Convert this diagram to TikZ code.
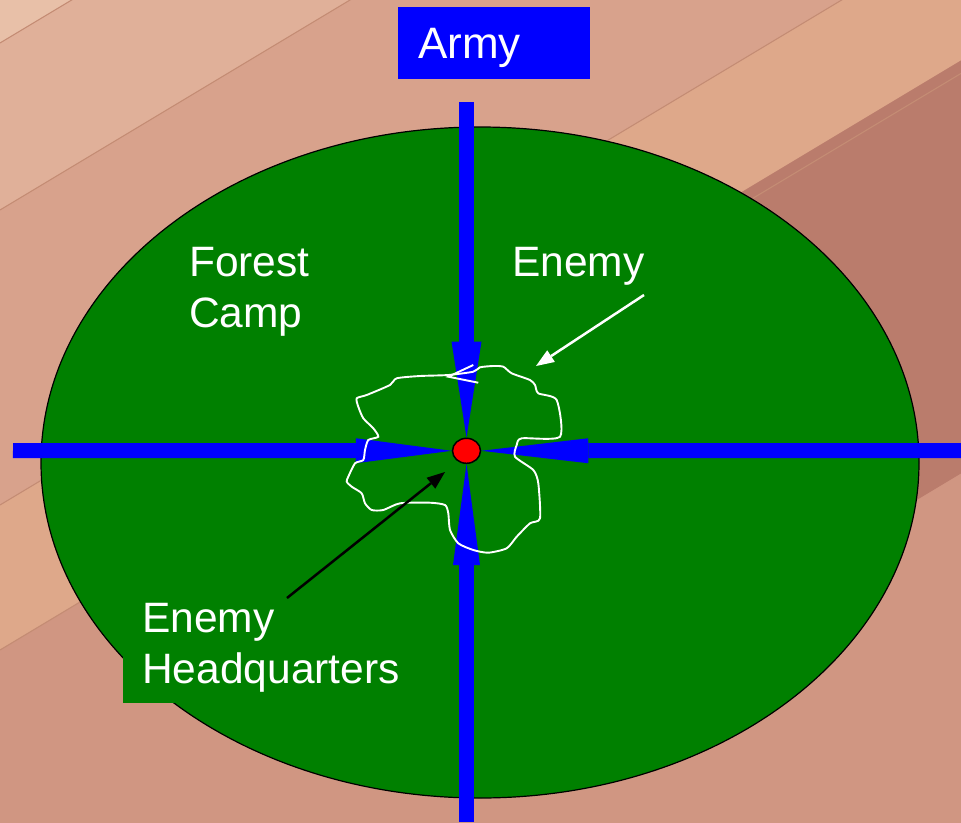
\documentclass[tikz,border=0pt]{standalone}
\usepackage{fontspec}
\setmainfont{Liberation Sans}
\usetikzlibrary{arrows.meta,shapes.geometric}
\pgfdeclarelayer{fg}
\pgfsetlayers{main,fg}
\definecolor{forest}{RGB}{0,128,0}
\definecolor{armyblue}{RGB}{0,0,255}
\definecolor{woodA}{RGB}{232,192,168}
\definecolor{woodB}{RGB}{224,176,153}
\definecolor{woodC}{RGB}{216,162,140}
\definecolor{woodD}{RGB}{222,168,138}
\definecolor{woodE}{RGB}{186,124,108}
\definecolor{woodF}{RGB}{208,150,130}
\definecolor{seam}{RGB}{196,140,116}
\tikzset{
  txt/.style={text=white, font=\fontsize{42.5}{51}\selectfont, inner sep=0pt, align=left},
  bluearrow/.style={draw=armyblue, line width=15pt},
  pointer/.style={line width=2.5pt, -{Triangle[length=18pt,width=14pt,line width=0pt]}},
  blob/.style={draw=white, line width=1.9pt},
  seamline/.style={draw=seam, line width=1.1pt},
}
\newcommand\woodband[3]{\fill[#1] (0,#2) -- (961,#2-576.6) -- (961,#3-576.6) -- (0,#3) -- cycle;}
\newcommand\woodseam[1]{\draw[seamline] (0,#1) -- (961,#1-576.6);}
\begin{document}
\begin{tikzpicture}[x=1pt,y=-1pt]
\useasboundingbox (0,0) rectangle (961,822);
% wooden floor background
\begin{scope}
  \clip (0,0) rectangle (961,822);
  \fill[woodC] (0,0) rectangle (961,822);
  \woodband{woodA}{-100}{43}
  \woodband{woodB}{43}{210}
  \woodband{woodC}{210}{505}
  \woodband{woodD}{505}{650}
  \woodband{woodF}{650}{2200}
  \fill[woodE] (650,247) -- (961,60.4) -- (961,473.4) -- (650,660) -- cycle;
  \woodseam{43}
  \woodseam{210}
  \woodseam{505}
  \woodseam{650}
\end{scope}
% forest camp
\node[ellipse, draw=black, line width=1.2pt, fill=forest, minimum width=878pt,
      minimum height=671pt, inner sep=0pt] (camp) at (480,462.5) {};
% army box
\node[fill=armyblue, text=white, font=\fontsize{44}{50}\selectfont, anchor=north west,
      text width=152pt, align=left, inner xsep=20pt, inner ysep=20.5pt,
      text height=31pt, text depth=0pt] (army) at (398,7) {Army};
% enemy headquarters dot (on top layer)
\begin{pgfonlayer}{fg}
\node[ellipse, draw=black, line width=1.5pt, fill=red, minimum width=28pt,
      minimum height=25pt, inner sep=0pt] (hq) at (466.5,450.8) {};
\end{pgfonlayer}
% blue attack arrows
\coordinate (topend) at (466.5,102);
\coordinate (leftend) at (13,450.5);
\coordinate (rightend) at (961,450.5);
\coordinate (botend) at (466.5,822);
\draw[bluearrow, -{Triangle[length=96pt,width=30pt,line width=0pt]}] (topend) -- (hq.north);
\draw[bluearrow, -{Triangle[length=101pt,width=27pt,line width=0pt]}] (botend) -- (hq.south);
\draw[bluearrow, -{Triangle[length=96pt,width=25pt,line width=0pt]}] (leftend) -- (hq.west);
\draw[bluearrow, -{Triangle[length=107pt,width=25pt,line width=0pt]}] (rightend) -- (hq.east);
% enemy area outline
\draw[blob] plot[smooth cycle, tension=0.4] coordinates {
 (448.3,375) (420,376) (396.7,378.3) (390,385) (366.7,395) (356.7,398.3)
 (358.3,406.7) (363.3,418.3) (373.3,428.3) (378.3,436.7) (368.3,440) (365,450)
 (363.3,460) (355,463.3) (348.3,476.7) (346.7,481.7) (351.7,486.7) (361.7,493.3)
 (365,503.3) (371.7,510) (383.3,510) (400,503.3) (430,502.7) (445,505)
 (448.3,513.3) (450,530) (458.3,543.3) (473.3,550) (488.3,552.7) (506.7,548.3)
 (516.7,536.7) (530,523.3) (540,518.3) (538.3,483.3) (533.3,470) (515,456.7)
 (516.7,445) (521.7,438.3) (560,436.7) (556.7,400) (538.3,393.3) (535,385)
 (530,380) (511.7,373.3) (503.3,366.7) (493.3,366) (480,367.3) (473.3,371.7)};
\draw[blob] (473.3,365) -- (448.3,376.7) -- (478.3,382.7);
% labels
\node[txt, anchor=north west] (forestlbl) at (189,247) {Forest\\Camp};
\node[txt, anchor=base west] (enemylbl) at (512,276) {Enemy};
\node[txt, fill=forest, inner xsep=19pt, inner ysep=10pt, anchor=south west] (hqlbl)
      at (123,703) {Enemy\\Headquarters};
% pointers
\coordinate (wstart) at (644,295);
\coordinate (wtip) at (536,366);
\coordinate (bstart) at (287,598);
\coordinate (btip) at (445,472);
\draw[pointer, white] (wstart) -- (wtip);
\draw[pointer, black] (bstart) -- (btip);
\end{tikzpicture}
\end{document}
